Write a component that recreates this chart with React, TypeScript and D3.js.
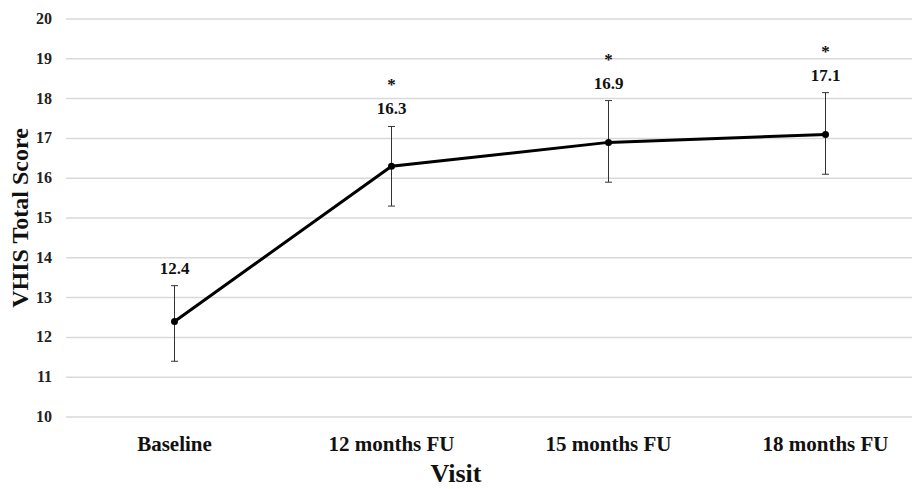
import React, { useEffect, useRef } from "react";
import * as d3 from "d3";

const visits = ["Baseline", "12 months FU", "15 months FU", "18 months FU"];
const scores = [12.4, 16.3, 16.9, 17.1];
const errUp = [0.9, 1.0, 1.05, 1.05];
const errDown = [1.0, 1.0, 1.0, 1.0];
const significant = [false, true, true, true];
const yTicks = [10, 11, 12, 13, 14, 15, 16, 17, 18, 19, 20];

function App() {
  const svgRef = useRef<SVGSVGElement | null>(null);

  useEffect(() => {
    const width = 912;
    const height = 489;
    const margin = { top: 19, right: -22, bottom: 72, left: 66 };
    const font = "'Liberation Serif', 'Times New Roman', serif";

    const svg = d3.select(svgRef.current).attr("width", width).attr("height", height);
    svg.selectAll("*").remove();

    const x = d3
      .scaleBand()
      .domain(visits)
      .range([margin.left, width - margin.right])
      .padding(0);

    const y = d3
      .scaleLinear()
      .domain([10, 20])
      .range([height - margin.bottom, margin.top]);

    const cx = (i: number) => (x(visits[i]) as number) + x.bandwidth() / 2;

    // gridlines
    svg
      .append("g")
      .selectAll("line")
      .data(yTicks)
      .enter()
      .append("line")
      .attr("x1", margin.left)
      .attr("x2", width)
      .attr("y1", (d) => y(d))
      .attr("y2", (d) => y(d))
      .attr("stroke", "#d9d9d9")
      .attr("stroke-width", 1.5);

    // y tick labels
    svg
      .append("g")
      .selectAll("text")
      .data(yTicks)
      .enter()
      .append("text")
      .attr("x", 52)
      .attr("y", (d) => y(d) + 5)
      .attr("text-anchor", "end")
      .style("font-family", font)
      .style("font-weight", "bold")
      .style("font-size", "16px")
      .attr("fill", "#222")
      .text((d) => d);

    // x category labels
    svg
      .append("g")
      .selectAll("text")
      .data(visits)
      .enter()
      .append("text")
      .attr("x", (d, i) => cx(i))
      .attr("y", 451)
      .attr("text-anchor", "middle")
      .style("font-family", font)
      .style("font-weight", "bold")
      .style("font-size", "21px")
      .attr("fill", "#111")
      .text((d) => d);

    // axis titles
    svg
      .append("text")
      .attr("x", width / 2)
      .attr("y", 482)
      .attr("text-anchor", "middle")
      .style("font-family", font)
      .style("font-weight", "bold")
      .style("font-size", "26px")
      .attr("fill", "#111")
      .text("Visit");

    svg
      .append("text")
      .attr("transform", `translate(28, ${(margin.top + height - margin.bottom) / 2}) rotate(-90)`)
      .attr("text-anchor", "middle")
      .style("font-family", font)
      .style("font-weight", "bold")
      .style("font-size", "24px")
      .attr("fill", "#111")
      .text("VHIS Total Score");

    // error bars
    const eb = svg.append("g").attr("stroke", "#333").attr("stroke-width", 1);
    scores.forEach((v, i) => {
      const top = y(v + errUp[i]);
      const bot = y(v - errDown[i]);
      eb.append("line").attr("x1", cx(i)).attr("x2", cx(i)).attr("y1", top).attr("y2", bot);
      eb.append("line").attr("x1", cx(i) - 3.5).attr("x2", cx(i) + 3.5).attr("y1", top).attr("y2", top);
      eb.append("line").attr("x1", cx(i) - 3.5).attr("x2", cx(i) + 3.5).attr("y1", bot).attr("y2", bot);
    });

    // line
    const line = d3
      .line<number>()
      .x((d, i) => cx(i))
      .y((d) => y(d));

    svg
      .append("path")
      .datum(scores)
      .attr("d", line)
      .attr("fill", "none")
      .attr("stroke", "#000")
      .attr("stroke-width", 3);

    svg
      .append("g")
      .selectAll("circle")
      .data(scores)
      .enter()
      .append("circle")
      .attr("cx", (d, i) => cx(i))
      .attr("cy", (d) => y(d))
      .attr("r", 3.5)
      .attr("fill", "#000");

    // value labels
    svg
      .append("g")
      .selectAll("text")
      .data(scores)
      .enter()
      .append("text")
      .attr("x", (d, i) => cx(i))
      .attr("y", (d, i) => y(d + errUp[i]) - 12)
      .attr("text-anchor", "middle")
      .style("font-family", font)
      .style("font-weight", "bold")
      .style("font-size", "17px")
      .attr("fill", "#111")
      .text((d) => d.toFixed(1));

    // significance markers
    svg
      .append("g")
      .selectAll("text")
      .data(scores)
      .enter()
      .filter((d, i) => significant[i])
      .append("text")
      .attr("x", (d) => cx(scores.indexOf(d)))
      .attr("y", (d) => y(d + errUp[scores.indexOf(d)]) - 36)
      .attr("text-anchor", "middle")
      .style("font-family", font)
      .style("font-weight", "bold")
      .style("font-size", "17px")
      .attr("fill", "#111")
      .text("*");
  }, []);

  return (
    <div>
      <svg ref={svgRef} style={{ position: "absolute", left: 0, top: 0 }}></svg>
    </div>
  );
}

export default App;
